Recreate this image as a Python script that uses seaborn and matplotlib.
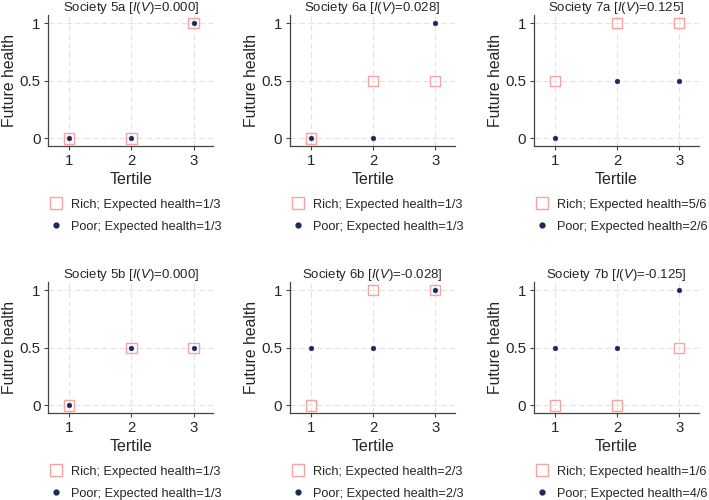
import matplotlib
matplotlib.use("Agg")
import matplotlib.pyplot as plt
import seaborn as sns
import pandas as pd
from matplotlib.lines import Line2D

sns.set_theme(style="white")
plt.rcParams['font.family'] = ['Liberation Sans', 'DejaVu Sans']
plt.rcParams['mathtext.fontset'] = 'custom'
plt.rcParams['mathtext.it'] = 'Liberation Sans:italic'
plt.rcParams['mathtext.rm'] = 'Liberation Sans'

tertiles = [1, 2, 3]
societies = ["5a", "6a", "7a", "5b", "6b", "7b"]
iv_values = ["0.000", "0.028", "0.125", "0.000", "-0.028", "-0.125"]
rich_health = [[0, 0, 1], [0, 0.5, 0.5], [0.5, 1, 1],
               [0, 0.5, 0.5], [0, 1, 1], [0, 0, 0.5]]
poor_health = [[0, 0, 1], [0, 0, 1], [0, 0.5, 0.5],
               [0, 0.5, 0.5], [0.5, 0.5, 1], [0.5, 0.5, 1]]
rich_expected = ["1/3", "1/3", "5/6", "1/3", "2/3", "1/6"]
poor_expected = ["1/3", "1/3", "2/6", "1/3", "2/3", "4/6"]

RICH = "#F5A3A3"
POOR = "#1B2A5A"
GRID = "#E3E3E3"
SPINE = "#444444"

fig = plt.figure(figsize=(7.09, 5.0), dpi=100)

lefts = [0.068, 0.409, 0.753]
width = 0.233
bottoms = [0.708, 0.174]
height = 0.262

for i, soc in enumerate(societies):
    r, c = divmod(i, 3)
    ax = fig.add_axes([lefts[c], bottoms[r], width, height])
    df_r = pd.DataFrame({"Tertile": tertiles, "Health": rich_health[i]})
    df_p = pd.DataFrame({"Tertile": tertiles, "Health": poor_health[i]})
    for v in [1, 2, 3]:
        ax.axvline(v, color=GRID, lw=0.8, dashes=(5, 3), zorder=0)
    for v in [0, 0.5, 1]:
        ax.axhline(v, color=GRID, lw=0.8, dashes=(5, 3), zorder=0)
    sns.scatterplot(data=df_r, x="Tertile", y="Health", ax=ax, marker="s",
                    s=55, facecolor="none", edgecolor=RICH, linewidth=1.0,
                    zorder=3, legend=False)
    sns.scatterplot(data=df_p, x="Tertile", y="Health", ax=ax, marker="o",
                    s=12, color=POOR, edgecolor=POOR, linewidth=0.3,
                    zorder=4, legend=False)
    ax.set_xlim(0.66, 3.32)
    ax.set_ylim(-0.065, 1.07)
    ax.set_xticks([1, 2, 3])
    ax.set_xticklabels(["1", "2", "3"])
    ax.set_yticks([0, 0.5, 1])
    ax.set_yticklabels(["0", "0.5", "1"])
    ax.tick_params(axis="both", labelsize=10.8, length=3, width=0.8,
                   color=SPINE, direction="out", pad=2.5, bottom=True, left=True)
    for s in ["top", "right"]:
        ax.spines[s].set_visible(False)
    for s in ["left", "bottom"]:
        ax.spines[s].set_color(SPINE)
        ax.spines[s].set_linewidth(0.9)
    ax.set_xlabel("Tertile", fontsize=11.5, labelpad=3)
    ax.set_ylabel("Future health", fontsize=11.3, labelpad=1.5)
    ax.set_title(f"Society {soc} [$\\mathit{{I}}$($\\mathit{{V}}$)={iv_values[i]}]",
                 fontsize=9.5, pad=3)
    handles = [
        Line2D([], [], marker="s", ls="none", markersize=8, markerfacecolor="none",
               markeredgecolor=RICH, markeredgewidth=1.0),
        Line2D([], [], marker="o", ls="none", markersize=3.5, color=POOR),
    ]
    labels = [f"Rich; Expected health={rich_expected[i]}",
              f"Poor; Expected health={poor_expected[i]}"]
    ax.legend(handles, labels, loc="upper left", bbox_to_anchor=(-0.03, -0.365),
              frameon=False, fontsize=9.2, handlelength=1.2, handletextpad=0.6,
              labelspacing=0.75, borderaxespad=0)

fig.savefig("out.png", dpi=100)
